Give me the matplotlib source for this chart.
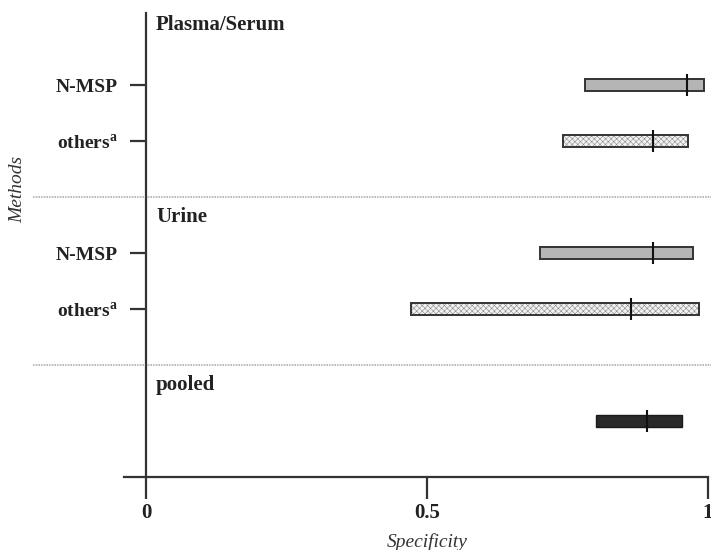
import matplotlib
matplotlib.use("Agg")
import matplotlib.pyplot as plt
import numpy as np

plt.rcParams['font.family'] = ['Liberation Serif', 'DejaVu Serif']
plt.rcParams['mathtext.fontset'] = 'custom'
plt.rcParams['mathtext.rm'] = 'Liberation Serif'
plt.rcParams['mathtext.bf'] = 'Liberation Serif:bold'
plt.rcParams['hatch.linewidth'] = 0.4

# data
methods = ["N-MSP", "others$^{\\mathbf{a}}$", "N-MSP", "others$^{\\mathbf{a}}$", ""]
lower = [0.781, 0.742, 0.701, 0.471, 0.801]
upper = [0.993, 0.964, 0.973, 0.984, 0.954]
median = [0.963, 0.902, 0.902, 0.863, 0.891]
kinds = ["nmsp", "others", "nmsp", "others", "pooled"]
groups = ["Plasma/Serum", "Urine", "pooled"]
xticks = [0, 0.5, 1]
xticklabels = ["0", "0.5", "1"]

# layout
rows = [1, 2, 4, 5, 7]
group_pos = [-0.07, 3.36, 6.36]
sep_pos = [3.0, 6.0]

fig = plt.figure(figsize=(7.11, 5.5), dpi=100)
ax = fig.add_axes([0.1737, 0.1327, 0.822, 0.8436])
ax.set_xlim(-0.04, 1.0)
ax.set_ylim(8.0, -0.29)

dark = '#333333'
for y, lo, hi, md, k in zip(rows, lower, upper, median, kinds):
    w = hi - lo
    if k == "nmsp":
        ax.barh(y, w, left=lo, height=0.21, color='#b5b5b5', edgecolor=dark, linewidth=1.4, zorder=3)
    elif k == "others":
        ax.barh(y, w, left=lo, height=0.21, color='#f2f2f2', edgecolor='#8a8a8a', hatch='xxxxxx', linewidth=0, zorder=3)
        ax.barh(y, w, left=lo, height=0.21, color='none', edgecolor=dark, linewidth=1.4, zorder=4)
    else:
        ax.barh(y, w, left=lo, height=0.21, color='#2a2a2a', edgecolor='#1a1a1a', linewidth=1.0, zorder=3)
    ax.vlines(md, y - 0.2, y + 0.2, color='#111111', linewidth=1.5, zorder=5)

for s in sep_pos:
    ax.axhline(s, xmin=-0.155, xmax=1.01, color='#b0b0b0', linewidth=1.2, linestyle=(0, (1, 0.6)), clip_on=False, zorder=1)

for g, p in zip(groups, group_pos):
    ax.text(0.018, p, g, fontsize=15, fontweight='bold', color='#222222', ha='left', va='center')

ax.spines['top'].set_visible(False)
ax.spines['right'].set_visible(False)
ax.spines['left'].set_position(('data', 0))
ax.spines['left'].set_linewidth(1.6)
ax.spines['left'].set_color(dark)
ax.spines['bottom'].set_linewidth(1.6)
ax.spines['bottom'].set_color(dark)

tick_rows = [r for r, m in zip(rows, methods) if m]
tick_labels = [m for m in methods if m]
ax.set_yticks(tick_rows)
ax.set_yticklabels(tick_labels, fontsize=14, fontweight='bold', color='#222222')
ax.tick_params(axis='y', direction='out', length=11.5, width=1.6, color=dark, pad=9)

ax.set_xticks(xticks)
ax.set_xticklabels(xticklabels, fontsize=15, fontweight='bold', color='#222222')
ax.tick_params(axis='x', direction='out', length=16, width=1.6, color=dark, pad=3)

ax.set_xlabel("Specificity", fontsize=14, fontstyle='italic', color='#333333', labelpad=2)
ax.xaxis.set_label_coords((0.5 + 0.04) / 1.04, -0.12)
fig.text(0.025, 0.655, "Methods", rotation=90, fontsize=14, fontstyle='italic', color='#333333', ha='center', va='center')

fig.savefig("out.png", dpi=100)
